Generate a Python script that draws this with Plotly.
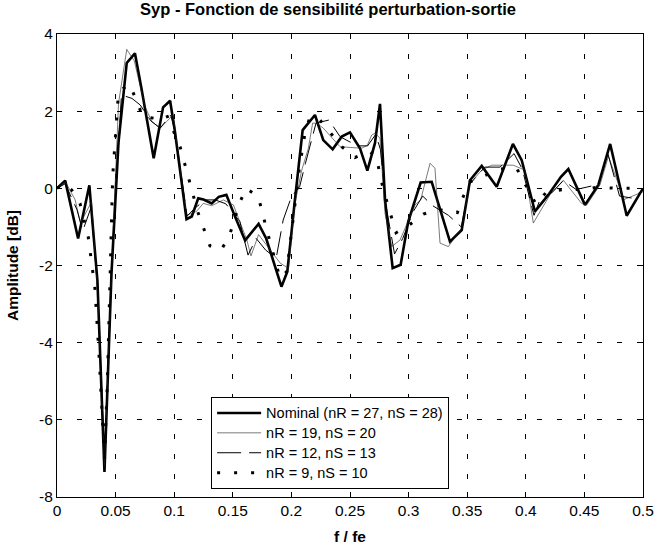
import plotly.graph_objects as go

# ---- data ----
f_nom = [0, 0.007, 0.018, 0.0276, 0.0345, 0.0405, 0.0465, 0.0525, 0.0595, 0.0665, 0.072,
         0.0825, 0.0905, 0.0965, 0.1005, 0.1105, 0.115, 0.1205, 0.125, 0.132, 0.138, 0.1445,
         0.152, 0.1605, 0.172, 0.1785, 0.1915, 0.1965, 0.203, 0.2096, 0.2201, 0.2272, 0.2352,
         0.2429, 0.25, 0.2585, 0.2648, 0.2713, 0.2756, 0.2799, 0.2864, 0.2932, 0.2997, 0.3103,
         0.3197, 0.3353, 0.3453, 0.3524, 0.3624, 0.3752, 0.389, 0.3965, 0.4078, 0.4192, 0.43,
         0.4363, 0.4505, 0.4619, 0.472, 0.4861, 0.5]
amp_nom = [0, 0.2, -1.3, 0.08, -2.4, -7.35, -2.2, 1.2, 3.25, 3.5, 2.6,
           0.78, 2.1, 2.27, 1.5, -0.8, -0.73, -0.26, -0.29, -0.39, -0.22, -0.17,
           -0.74, -1.35, -0.92, -1.3, -2.55, -2.16, -0.3, 1.51, 1.9, 1.25, 1.01,
           1.34, 1.45, 1.04, 0.46, 1.17, 2.19, -0.3, -2.07, -1.98, -0.86, 0.15,
           0.17, -1.38, -1.08, 0.21, 0.58, 0.04, 1.15, 0.73, -0.6, -0.17, 0.3,
           0.5, -0.43, 0.09, 1.15, -0.71, 0.0]

f_19 = [0, 0.007, 0.0155, 0.02, 0.0295, 0.0345, 0.0405, 0.0465, 0.0525, 0.0595, 0.066,
        0.075, 0.081, 0.088, 0.0935, 0.099, 0.1005, 0.1105, 0.119, 0.1248, 0.132, 0.142,
        0.1505, 0.162, 0.1655, 0.172, 0.1795, 0.1905, 0.1975, 0.203, 0.2088, 0.2145, 0.2181,
        0.2216, 0.2272, 0.2415, 0.25, 0.26, 0.2648, 0.2685, 0.2713, 0.2756, 0.2799, 0.2856,
        0.2927, 0.3055, 0.3103, 0.3183, 0.3225, 0.3268, 0.3339, 0.3453, 0.3524, 0.3624,
        0.3709, 0.3893, 0.3993, 0.4064, 0.4206, 0.432, 0.4476, 0.452, 0.4633, 0.4705,
        0.4838, 0.5]
amp_19 = [0, 0.18, -0.3, -0.9, -0.35, -2.6, -7.2, -2.2, 2.2, 3.6, 3.3,
          2.12, 1.73, 1.56, 1.73, 1.9, 1.6, -0.7, -0.6, -0.39, -0.45, -0.3,
          -0.43, -1.34, -1.75, -1.2, -1.5, -1.94, -2.07, -0.4, 0.47, 1.04, 1.69,
          1.69, 1.56, 1.08, 1.06, 1.04, 1.12, 1.38, 1.43, 1.3, -0.65, -1.51,
          -1.34, -0.43, -0.3, 0.65, 0.52, -1.42, -1.51, -1.04, 0.13, 0.47,
          0.6, 0.6, 0.47, -0.9, -0.17, 0.21, -0.39, -0.43, 0.09, 0.83,
          -0.29, -0.09]

f_12 = [0, 0.007, 0.017, 0.022, 0.029, 0.0345, 0.0405, 0.0465, 0.055, 0.064, 0.071,
        0.08, 0.088, 0.097, 0.1005, 0.111, 0.118, 0.127, 0.135, 0.144, 0.156, 0.163,
        0.17, 0.178, 0.187, 0.193, 0.2, 0.207, 0.212, 0.221, 0.232, 0.2415, 0.25,
        0.258, 0.265, 0.272, 0.276, 0.281, 0.288, 0.295, 0.304, 0.312, 0.32, 0.334,
        0.345, 0.352, 0.365, 0.378, 0.39, 0.397, 0.407, 0.412, 0.423, 0.432, 0.443,
        0.462, 0.47, 0.48, 0.49, 0.5]
amp_12 = [0, 0.12, -0.55, -1.1, -0.5, -2.5, -7.0, -2.0, 2.42, 2.33, 2.16,
          1.75, 1.56, 1.9, 1.5, -0.72, -0.5, -0.3, -0.3, -0.4, -0.86, -1.73,
          -1.3, -1.6, -1.81, -0.82, -0.22, 0.04, 0.65, 1.69, 1.77, 1.34, 1.2,
          1.1, 1.1, 1.4, 1.0, -0.5, -1.7, -1.3, -0.6, -0.2, -0.44, -0.7,
          -1.0, 0.1, 0.55, 0.55, 0.9, 0.5, -0.7, -0.3, -0.09, 0.2, -0.03,
          0.1, 0.9, -0.2, -0.25, -0.05]

f_9 = [0, 0.006, 0.0125, 0.0196, 0.0267, 0.0324, 0.036, 0.0405, 0.0429, 0.0452, 0.0475,
       0.0525, 0.0617, 0.068, 0.0731, 0.0845, 0.0936, 0.105, 0.1129, 0.12, 0.1305, 0.14,
       0.147, 0.1556, 0.1613, 0.1718, 0.179, 0.1903, 0.196, 0.2017, 0.2068, 0.2116, 0.2159,
       0.2244, 0.2335, 0.2429, 0.2543, 0.2662, 0.2722, 0.2785, 0.2893, 0.2984, 0.3126, 0.325,
       0.3416, 0.3467, 0.3524, 0.378, 0.3922, 0.4087, 0.4178, 0.4334, 0.4462, 0.4619, 0.4776, 0.5]
amp_9 = [0, 0.12, -0.04, -0.39, -1.27, -2.6, -4.4, -7.0, -5.1, -2.4, 0.3,
         2.5, 2.7, 2.27, 1.86, 1.81, 1.9, 1.08, 0.22, -0.6, -1.49, -1.6,
         -1.24, -0.39, 0.0, -0.22, -1.08, -2.33, -2.16, -0.82, 0.52, 1.43, 1.86,
         1.77, 1.43, 1.08, 0.8, 0.95, 0.84, -0.04, -1.15, -1.0, -0.67, -0.55,
         -0.63, -0.21, 0.17, 0.5, 0.52, -0.41, -0.09, -0.03, -0.03, 0.03, 0.0, 0.0]

names = ["Nominal (nR = 27, nS = 28)", "nR = 19, nS = 20", "nR = 12, nS = 13", "nR = 9, nS = 10"]
x_ticks = [0, 0.05, 0.1, 0.15, 0.2, 0.25, 0.3, 0.35, 0.4, 0.45, 0.5]
y_ticks = [-8, -6, -4, -2, 0, 2, 4]

FONT = "Arial, Liberation Sans, Helvetica, sans-serif"


def leg(name):
    return '<span style="font-size:14.5px">' + name + '</span>'


fig = go.Figure()
fig.add_trace(go.Scatter(x=f_nom, y=amp_nom, mode="lines", name=leg(names[0]),
                         line=dict(color="black", width=2.6)))
fig.add_trace(go.Scatter(x=f_19, y=amp_19, mode="lines", name=leg(names[1]),
                         line=dict(color="#222", width=0.6)))
fig.add_trace(go.Scatter(x=f_12, y=amp_12, mode="lines", name=leg(names[2]),
                         line=dict(color="black", width=1, dash="24px,8px")))
fig.add_trace(go.Scatter(x=f_9, y=amp_9, mode="lines", name=leg(names[3]),
                         line=dict(color="black", width=3, dash="3px,14px")))

axis_common = dict(showline=True, linecolor="black", linewidth=1, mirror="ticks",
                   ticks="inside", ticklen=5, tickcolor="black", automargin=False,
                   showgrid=True, gridcolor="black", gridwidth=1, griddash="5px,15px",
                   zeroline=False, tickfont=dict(family=FONT, size=15.5, color="black"))

fig.update_xaxes(range=[0, 0.5], tickvals=x_ticks, ticktext=[str(v) for v in x_ticks],
                 ticklabelstandoff=-1,
                 title=dict(text="<b>f / fe</b>", font=dict(family=FONT, size=15.5, color="black"),
                            standoff=13), **axis_common)
fig.update_yaxes(range=[-8, 4], tickvals=y_ticks, ticktext=[str(v) for v in y_ticks],
                 title=dict(text="<b>Amplitude [dB]</b>", font=dict(family=FONT, size=15.5, color="black"),
                            standoff=16), **axis_common)

fig.update_layout(
    width=656, height=548,
    margin=dict(l=57, r=13, t=34, b=51),
    paper_bgcolor="white", plot_bgcolor="white",
    title=dict(text="<b>Syp - Fonction de sensibilité perturbation-sortie</b>",
               x=0.5, xanchor="center", y=0.993, yanchor="top",
               font=dict(family=FONT, size=16.5, color="black")),
    legend=dict(x=0.263, y=0.216, xanchor="left", yanchor="top",
                bgcolor="white", bordercolor="black", borderwidth=1,
                font=dict(family=FONT, size=13, color="black"),
                tracegroupgap=0, itemwidth=44),
    showlegend=True,
)

# remove the default 8px page margin so the figure sits at the window origin
fig.write_html("out.html", config={"displayModeBar": False},
               post_script="document.body.style.margin='0';")
